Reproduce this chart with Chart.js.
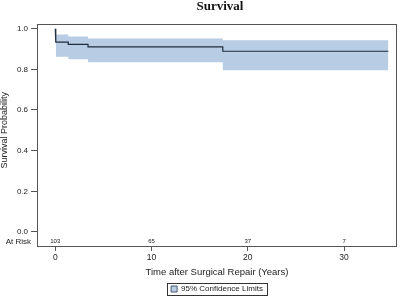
<!DOCTYPE html>
<html>
<head>
<meta charset="utf-8">
<script src="https://cdn.jsdelivr.net/npm/chart.js@4.4.1/dist/chart.umd.min.js"></script>
<style>
  html, body { margin: 0; padding: 0; background: #fff; }
  #wrap { width: 400px; height: 296px; }
</style>
</head>
<body>
<div id="wrap"><canvas id="km_Chart" width="400" height="296"></canvas></div>
<script>
// Kaplan-Meier step estimate (time in years, survival)
var survTimes = [0, 0.05, 1.35, 3.4, 17.4, 34.6];
var survValues = [1.0, 0.934, 0.923, 0.91, 0.889, 0.889];

// 95% confidence band
var ciTimes = [0.05, 1.35, 3.4, 17.4, 34.6];
var ciUpper = [0.971, 0.961, 0.952, 0.943, 0.943];
var ciLower = [0.862, 0.849, 0.835, 0.796, 0.796];

// numbers at risk
var riskTimes = [0, 10, 20, 30];
var riskCounts = [103, 65, 37, 7];

var yTicks = [0, 0.2, 0.4, 0.6, 0.8, 1.0];
var xTicks = [0, 10, 20, 30];

// escalier construit à partir des tableaux (saut à chaque temps)
const stepPoints = (xs, ys) => {
  let pts = [];
  for (let i = 0; i < xs.length; i++) {
    if (i > 0) pts.push({ x: xs[i], y: ys[i - 1] });
    pts.push({ x: xs[i], y: ys[i] });
  }
  return pts;
};

const sans = '"Liberation Sans", Arial, sans-serif';
const axisColor = '#555';
const bandColor = '#b8cce4';
const textColor = '#222';

const decorations = {
  id: 'decorations',
  afterDraw(chart) {
    const ctx = chart.ctx;
    const a = chart.chartArea;
    const xs = chart.scales.x;
    const ys = chart.scales.y;
    ctx.save();
    // cadre
    ctx.strokeStyle = axisColor;
    ctx.lineWidth = 1;
    ctx.strokeRect(a.left + 0.5, a.top + 0.5, a.right - a.left - 1, a.bottom - a.top - 1);

    // titre
    ctx.fillStyle = '#111';
    ctx.textAlign = 'center';
    ctx.textBaseline = 'alphabetic';
    ctx.font = 'bold 13px "Liberation Serif", "Times New Roman", serif';
    ctx.fillText('Survival', (a.left + a.right) / 2 + 3, 10);

    // titre axe y
    ctx.fillStyle = textColor;
    ctx.save();
    ctx.translate(5, (ys.getPixelForValue(0) + ys.getPixelForValue(1)) / 2);
    ctx.rotate(-Math.PI / 2);
    ctx.textBaseline = 'middle';
    ctx.font = '9px ' + sans;
    ctx.fillText('Survival Probability', 0, 0);
    ctx.restore();

    // ligne "At Risk"
    const rowY = ys.getPixelForValue(-0.045);
    ctx.font = '6px ' + sans;
    ctx.textAlign = 'center';
    ctx.textBaseline = 'middle';
    riskTimes.forEach((t, i) => {
      ctx.fillText(String(riskCounts[i]), xs.getPixelForValue(t), rowY);
    });
    ctx.font = '8px ' + sans;
    ctx.textAlign = 'right';
    ctx.fillText('At Risk', a.left - 6, rowY + 0.5);

    // cadre autour de la légende
    const lg = chart.legend;
    if (lg && lg.legendHitBoxes && lg.legendHitBoxes.length) {
      const hb = lg.legendHitBoxes[0];
      ctx.strokeStyle = '#333';
      ctx.strokeRect(Math.round(hb.left - 4) + 0.5, Math.round(hb.top - 2) + 0.5,
        Math.round(hb.width + 8), 12);
    }
    ctx.restore();
  }
};

const ctx_km = document.getElementById('km_Chart').getContext('2d');
var myChartKM = new Chart(ctx_km, {
  type: 'line',
  data: {
    datasets: [{
      label: 'Survival',
      data: stepPoints(survTimes, survValues),
      borderWidth: 1.2,
      borderColor: '#1f2d3d',
      backgroundColor: '#1f2d3d',
      pointRadius: 0,
      fill: false
    }, {
      label: 'upper',
      data: stepPoints(ciTimes, ciUpper),
      borderWidth: 0,
      borderColor: 'rgba(0,0,0,0)',
      backgroundColor: bandColor,
      pointRadius: 0,
      fill: false
    }, {
      label: '95% Confidence Limits',
      data: stepPoints(ciTimes, ciLower),
      borderWidth: 0,
      borderColor: 'rgba(0,0,0,0)',
      backgroundColor: bandColor,
      pointRadius: 0,
      fill: '-1'
    }]
  },
  options: {
    responsive: false,
    animation: false,
    layout: { padding: { top: 24, right: 3, bottom: -7, left: 0 } },
    plugins: {
      title: { display: false },
      legend: {
        position: 'bottom',
        fullSize: false,
        labels: {
          generateLabels: () => [{
            text: '95% Confidence Limits',
            fillStyle: bandColor,
            strokeStyle: '#4a5a70',
            lineWidth: 1,
            fontColor: textColor,
            datasetIndex: 2
          }],
          boxWidth: 6,
          boxHeight: 6,
          padding: 3,
          color: textColor,
          font: { family: sans, size: 8 }
        }
      },
      tooltip: { enabled: false }
    },
    scales: {
      x: {
        type: 'linear',
        min: -1.9,
        max: 35.5,
        afterBuildTicks: s => { s.ticks = xTicks.map(v => ({ value: v })); },
        afterFit: s => { s.height = 35; },
        grid: { display: true, drawOnChartArea: false, drawTicks: true, tickLength: 4, color: axisColor },
        border: { display: false },
        ticks: {
          color: textColor,
          padding: 2,
          font: { family: sans, size: 8.5 }
        },
        title: {
          display: true,
          text: 'Time after Surgical Repair (Years)',
          color: textColor,
          padding: { top: 0, bottom: 4.3 },
          font: { family: sans, size: 9.5 }
        }
      },
      y: {
        type: 'linear',
        min: -0.074,
        max: 1.023,
        afterBuildTicks: s => { s.ticks = yTicks.map(v => ({ value: v })); },
        afterFit: s => { s.width = 37; },
        grid: { display: true, drawOnChartArea: false, drawTicks: true, tickLength: 6, color: axisColor },
        border: { display: false },
        ticks: {
          color: textColor,
          padding: 3,
          callback: v => v.toFixed(1),
          font: { family: sans, size: 8 }
        },
        title: { display: false }
      }
    }
  },
  plugins: [decorations]
});
</script>
</body>
</html>
